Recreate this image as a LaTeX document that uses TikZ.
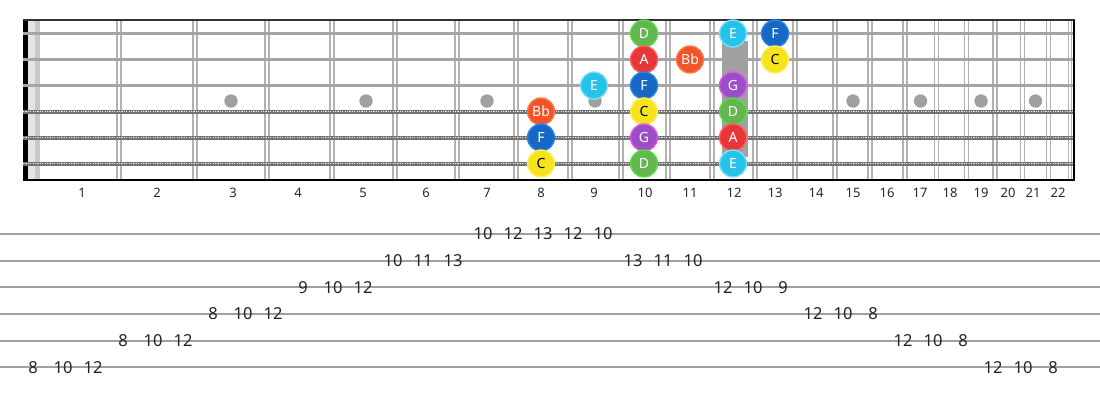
\documentclass[tikz,border=0pt]{standalone}
\usepackage{fontspec}
\setmainfont{Noto Sans}
\usepackage{tikz}
\usetikzlibrary{calc}

\tikzset{
  fretline/.style={draw={rgb, 255:red, 178; green, 178; blue, 178 }, line width=1.3},
  plainstring/.style={draw={rgb, 255:red, 165; green, 165; blue, 165 }, line width=2.5},
  woundstring/.style={draw={rgb, 255:red, 115; green, 115; blue, 115 }, line width=4,
    postaction={draw={rgb, 255:red, 235; green, 235; blue, 235 }, line width=1.3, dash pattern=on 1.2pt off 1.2pt}},
  inlay/.style={fill={rgb, 255:red, 160; green, 160; blue, 160 }},
  tabline/.style={draw={rgb, 255:red, 160; green, 160; blue, 160 }, line width=1.8},
  fretnum/.style={inner sep=0.75pt, font=\fontsize{13}{13}\selectfont, text={rgb, 255:red, 40; green, 40; blue, 40 }},
  tabnum/.style={inner sep=0.75pt, font=\fontsize{16.5}{16.5}\selectfont, text={rgb, 255:red, 35; green, 35; blue, 35 }},
  note/.style={circle, minimum size=27, inner sep=0, line width=1.4, text=white, font=\fontsize{14}{14}\selectfont},
  noteD/.style={note, fill={rgb, 255:red, 100; green, 182; blue, 80 }, draw={rgb, 255:red, 85; green, 222; blue, 70 }},
  noteA/.style={note, fill={rgb, 255:red, 230; green, 54; blue, 56 }, draw={rgb, 255:red, 255; green, 95; blue, 95 }},
  noteE/.style={note, fill={rgb, 255:red, 38; green, 194; blue, 234 }, draw={rgb, 255:red, 125; green, 225; blue, 250 }},
  noteF/.style={note, fill={rgb, 255:red, 22; green, 104; blue, 196 }, draw={rgb, 255:red, 45; green, 132; blue, 240 }},
  noteC/.style={note, fill={rgb, 255:red, 246; green, 226; blue, 30 }, draw={rgb, 255:red, 255; green, 240; blue, 95 }, text=black},
  noteG/.style={note, fill={rgb, 255:red, 156; green, 78; blue, 200 }, draw={rgb, 255:red, 222; green, 90; blue, 222 }},
  noteBb/.style={note, fill={rgb, 255:red, 240; green, 84; blue, 40 }, draw={rgb, 255:red, 255; green, 122; blue, 72 }}
}

\begin{document}
\begin{tikzpicture}[x=1pt,y=1pt,yscale=-1,xscale=1]
\useasboundingbox (0,0) rectangle (1100,400);

%Shape: Nut
\fill [black] (23,20) rectangle (27.5,180);
\fill [fill={rgb, 255:red, 228; green, 228; blue, 228 }] (27.5,20) rectangle (35,180);
\fill [fill={rgb, 255:red, 200; green, 200; blue, 200 }] (35,20) rectangle (40,180);

%Straight Lines: frets
\draw [fretline] (117,20) -- (117,180) (121,20) -- (121,180);
\draw [fretline] (193,20) -- (193,180) (197,20) -- (197,180);
\draw [fretline] (265,20) -- (265,180) (269,20) -- (269,180);
\draw [fretline] (330,20) -- (330,180) (334,20) -- (334,180);
\draw [fretline] (393,20) -- (393,180) (397,20) -- (397,180);
\draw [fretline] (455,20) -- (455,180) (459,20) -- (459,180);
\draw [fretline] (514,20) -- (514,180) (518,20) -- (518,180);
\draw [fretline] (568,20) -- (568,180) (572,20) -- (572,180);
\draw [fretline] (619,20) -- (619,180) (623,20) -- (623,180);
\draw [fretline] (666,20) -- (666,180) (670,20) -- (670,180);
\draw [fretline] (710,20) -- (710,180) (714,20) -- (714,180);
\draw [fretline] (753,20) -- (753,180) (757,20) -- (757,180);
\draw [fretline] (793,20) -- (793,180) (797,20) -- (797,180);
\draw [fretline] (833,20) -- (833,180) (837,20) -- (837,180);
\draw [fretline] (868,20) -- (868,180) (872,20) -- (872,180);
\draw [fretline] (903,20) -- (903,180) (907,20) -- (907,180);
\draw [fretline] (934.5,20) -- (934.5,180) (938.5,20) -- (938.5,180);
\draw [fretline] (964.5,20) -- (964.5,180) (968.5,20) -- (968.5,180);
\draw [fretline] (993,20) -- (993,180) (997,20) -- (997,180);
\draw [fretline] (1020.5,20) -- (1020.5,180) (1024.5,20) -- (1024.5,180);
\draw [fretline] (1046.5,20) -- (1046.5,180) (1050.5,20) -- (1050.5,180);
\draw [fretline] (1068.5,20) -- (1068.5,180) (1071.5,20) -- (1071.5,180);

%Shape: Circle (inlays)
\fill [inlay] (231,101) circle [radius=6.7];
\fill [inlay] (366,101) circle [radius=6.7];
\fill [inlay] (487,101) circle [radius=6.7];
\fill [inlay] (595,101) circle [radius=6.7];
\fill [inlay] (853,101) circle [radius=6.7];
\fill [inlay] (920.5,101) circle [radius=6.7];
\fill [inlay] (981,101) circle [radius=6.7];
\fill [inlay] (1035.5,101) circle [radius=6.7];

%Straight Lines: strings
\draw [plainstring] (23,33.5) -- (1075,33.5);
\draw [plainstring] (23,59.5) -- (1075,59.5);
\draw [plainstring] (23,85.5) -- (1075,85.5);
\draw [woundstring] (23,111.5) -- (1075,111.5);
\draw [woundstring] (23,137.5) -- (1075,137.5);
\draw [woundstring] (23,163.5) -- (1075,163.5);

%Shape: Rectangle (12th fret)
\fill [inlay] (722,41) rectangle (748,157);

%Straight Lines: border
\draw [draw={rgb, 255:red, 50; green, 50; blue, 50 }, line width=2] (23,20) -- (1075,20);
\draw [black, line width=2] (23,180) -- (1075,180);
\draw [black, line width=2] (1074,20) -- (1074,180);

% Text Node: notes
\node [noteD] (s1f10) at (644,33.5) {D};
\node [noteE] (s1f12) at (733,33.5) {E};
\node [noteF] (s1f13) at (775,33.5) {F};
\node [noteA] (s2f10) at (644,59.5) {A};
\node [noteBb] (s2f11) at (690,59.5) {Bb};
\node [noteC] (s2f13) at (775,59.5) {C};
\node [noteE] (s3f9) at (594,85.5) {E};
\node [noteF] (s3f10) at (644,85.5) {F};
\node [noteG] (s3f12) at (733,85.5) {G};
\node [noteBb] (s4f8) at (541,111.5) {Bb};
\node [noteC] (s4f10) at (644,111.5) {C};
\node [noteD] (s4f12) at (733,111.5) {D};
\node [noteF] (s5f8) at (541,137.5) {F};
\node [noteG] (s5f10) at (644,137.5) {G};
\node [noteA] (s5f12) at (733,137.5) {A};
\node [noteC] (s6f8) at (541,163.5) {C};
\node [noteD] (s6f10) at (644,163.5) {D};
\node [noteE] (s6f12) at (733,163.5) {E};

% Text Node: fret numbers
\node [fretnum] (n1) at (82,193) {1};
\node [fretnum] (n2) at (157,193) {2};
\node [fretnum] (n3) at (233,193) {3};
\node [fretnum] (n4) at (298,193) {4};
\node [fretnum] (n5) at (363,193) {5};
\node [fretnum] (n6) at (426,193) {6};
\node [fretnum] (n7) at (487,193) {7};
\node [fretnum] (n8) at (541,193) {8};
\node [fretnum] (n9) at (594,193) {9};
\node [fretnum] (n10) at (645,193) {10};
\node [fretnum] (n11) at (690,193) {11};
\node [fretnum] (n12) at (734,193) {12};
\node [fretnum] (n13) at (775,193) {13};
\node [fretnum] (n14) at (816,193) {14};
\node [fretnum] (n15) at (853,193) {15};
\node [fretnum] (n16) at (887,193) {16};
\node [fretnum] (n17) at (920,193) {17};
\node [fretnum] (n18) at (950,193) {18};
\node [fretnum] (n19) at (981,193) {19};
\node [fretnum] (n20) at (1008,193) {20};
\node [fretnum] (n21) at (1033,193) {21};
\node [fretnum] (n22) at (1058,193) {22};

%Straight Lines: tab staff
\draw [tabline] (0,234) -- (1100,234);
\draw [tabline] (0,260.7) -- (1100,260.7);
\draw [tabline] (0,287.3) -- (1100,287.3);
\draw [tabline] (0,314) -- (1100,314);
\draw [tabline] (0,340.7) -- (1100,340.7);
\draw [tabline] (0,367.3) -- (1100,367.3);

% Text Node: tab, ascending
\node [tabnum] (t1) at (33,367.3) {8};
\node [tabnum] (t2) at (63,367.3) {10};
\node [tabnum] (t3) at (93,367.3) {12};
\node [tabnum] (t4) at (123,340.7) {8};
\node [tabnum] (t5) at (153,340.7) {10};
\node [tabnum] (t6) at (183,340.7) {12};
\node [tabnum] (t7) at (213,314) {8};
\node [tabnum] (t8) at (243,314) {10};
\node [tabnum] (t9) at (273,314) {12};
\node [tabnum] (t10) at (303,287.3) {9};
\node [tabnum] (t11) at (333,287.3) {10};
\node [tabnum] (t12) at (363,287.3) {12};
\node [tabnum] (t13) at (393,260.7) {10};
\node [tabnum] (t14) at (423,260.7) {11};
\node [tabnum] (t15) at (453,260.7) {13};
\node [tabnum] (t16) at (483,234) {10};
\node [tabnum] (t17) at (513,234) {12};
\node [tabnum] (t18) at (543,234) {13};
% Text Node: tab, descending
\node [tabnum] (t19) at (573,234) {12};
\node [tabnum] (t20) at (603,234) {10};
\node [tabnum] (t21) at (633,260.7) {13};
\node [tabnum] (t22) at (663,260.7) {11};
\node [tabnum] (t23) at (693,260.7) {10};
\node [tabnum] (t24) at (723,287.3) {12};
\node [tabnum] (t25) at (753,287.3) {10};
\node [tabnum] (t26) at (783,287.3) {9};
\node [tabnum] (t27) at (813,314) {12};
\node [tabnum] (t28) at (843,314) {10};
\node [tabnum] (t29) at (873,314) {8};
\node [tabnum] (t30) at (903,340.7) {12};
\node [tabnum] (t31) at (933,340.7) {10};
\node [tabnum] (t32) at (963,340.7) {8};
\node [tabnum] (t33) at (993,367.3) {12};
\node [tabnum] (t34) at (1023,367.3) {10};
\node [tabnum] (t35) at (1053,367.3) {8};

\end{tikzpicture}
\end{document}
